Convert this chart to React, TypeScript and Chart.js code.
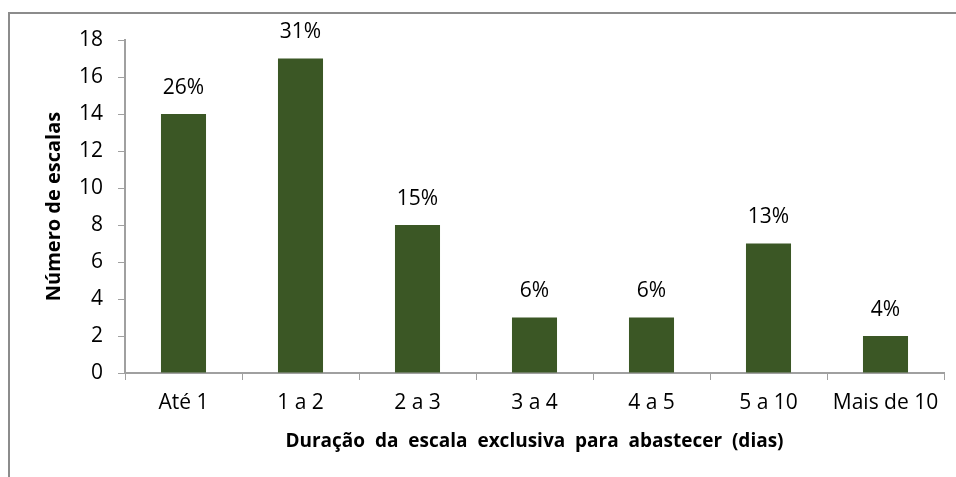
import React, { useEffect, useRef } from "react";
import { Chart, registerables } from "chart.js";

Chart.register(...registerables);

const categories = ["Até 1", "1 a 2", "2 a 3", "3 a 4", "4 a 5", "5 a 10", "Mais de 10"];
const counts = [14, 17, 8, 3, 3, 7, 2];
const percentLabels = ["26%", "31%", "15%", "6%", "6%", "13%", "4%"];
const yTicks = [0, 2, 4, 6, 8, 10, 12, 14, 16, 18];

const FONT = "'Open Sans', Lato, sans-serif";
const AXIS_GRAY = "#a0a0a0";

const labelPlugin = {
  id: "pctLabels",
  afterDatasetsDraw(chart: any) {
    const ctx = chart.ctx;
    const meta = chart.getDatasetMeta(0);
    ctx.save();
    ctx.font = `21px ${FONT}`;
    ctx.fillStyle = "#000";
    ctx.textAlign = "center";
    ctx.textBaseline = "middle";
    meta.data.forEach((bar: any, i: number) => {
      ctx.fillText(percentLabels[i], bar.x, bar.y - 26);
    });
    ctx.restore();
  },
};

export default function App() {
  const ref = useRef<HTMLCanvasElement>(null);
  useEffect(() => {
    if (!ref.current) return;
    const chart = new Chart(ref.current, {
      type: "bar",
      data: {
        labels: categories,
        datasets: [
          {
            data: counts,
            backgroundColor: "#3b5725",
            barPercentage: 0.385,
            categoryPercentage: 1,
          },
        ],
      },
      options: {
        animation: false,
        responsive: false,
        maintainAspectRatio: false,
        layout: { padding: { top: 40, right: 12, left: 0, bottom: 0 } },
        plugins: { legend: { display: false }, tooltip: { enabled: false } },
        scales: {
          x: {
            offset: true,
            grid: {
              offset: true,
              drawOnChartArea: false,
              drawTicks: true,
              tickLength: 7,
              color: AXIS_GRAY,
            },
            border: { color: AXIS_GRAY, width: 2 },
            ticks: {
              color: "#000",
              font: { family: FONT, size: 21 },
              padding: 10,
              maxRotation: 0,
              autoSkip: false,
            },
            title: {
              display: true,
              text: "Duração  da  escala  exclusiva  para  abastecer  (dias)",
              color: "#000",
              font: { family: FONT, size: 19, weight: "bold" },
              padding: { top: 0, bottom: 24 },
            },
            afterFit(scale: any) {
              scale.height = 104;
            },
          },
          y: {
            min: 0,
            max: 18,
            afterBuildTicks(scale: any) {
              scale.ticks = yTicks.map((v) => ({ value: v }));
            },
            grid: {
              drawOnChartArea: false,
              drawTicks: true,
              tickLength: 7,
              color: AXIS_GRAY,
            },
            border: { color: AXIS_GRAY, width: 2 },
            ticks: {
              color: "#000",
              font: { family: FONT, size: 21 },
              padding: 15,
            },
            title: {
              display: true,
              text: "Número de escalas",
              color: "#000",
              font: { family: FONT, size: 20, weight: "bold" },
              padding: { top: 42, bottom: 0 },
            },
            afterFit(scale: any) {
              scale.width = 125;
            },
          },
        },
      },
      plugins: [labelPlugin],
    });
    return () => chart.destroy();
  }, []);

  return (
    <div style={{ position: "fixed", left: 0, top: 0, width: 956, height: 477, background: "#fff" }}>
      <div
        style={{
          position: "absolute",
          left: 8,
          top: 12,
          width: 960,
          height: 480,
          borderTop: "2px solid #8c8c8c",
          borderLeft: "2px solid #8c8c8c",
          boxSizing: "border-box",
        }}
      />
      <canvas
        ref={ref}
        width={956}
        height={477}
        style={{ position: "absolute", left: 0, top: 0, width: 956, height: 477 }}
      />
    </div>
  );
}
